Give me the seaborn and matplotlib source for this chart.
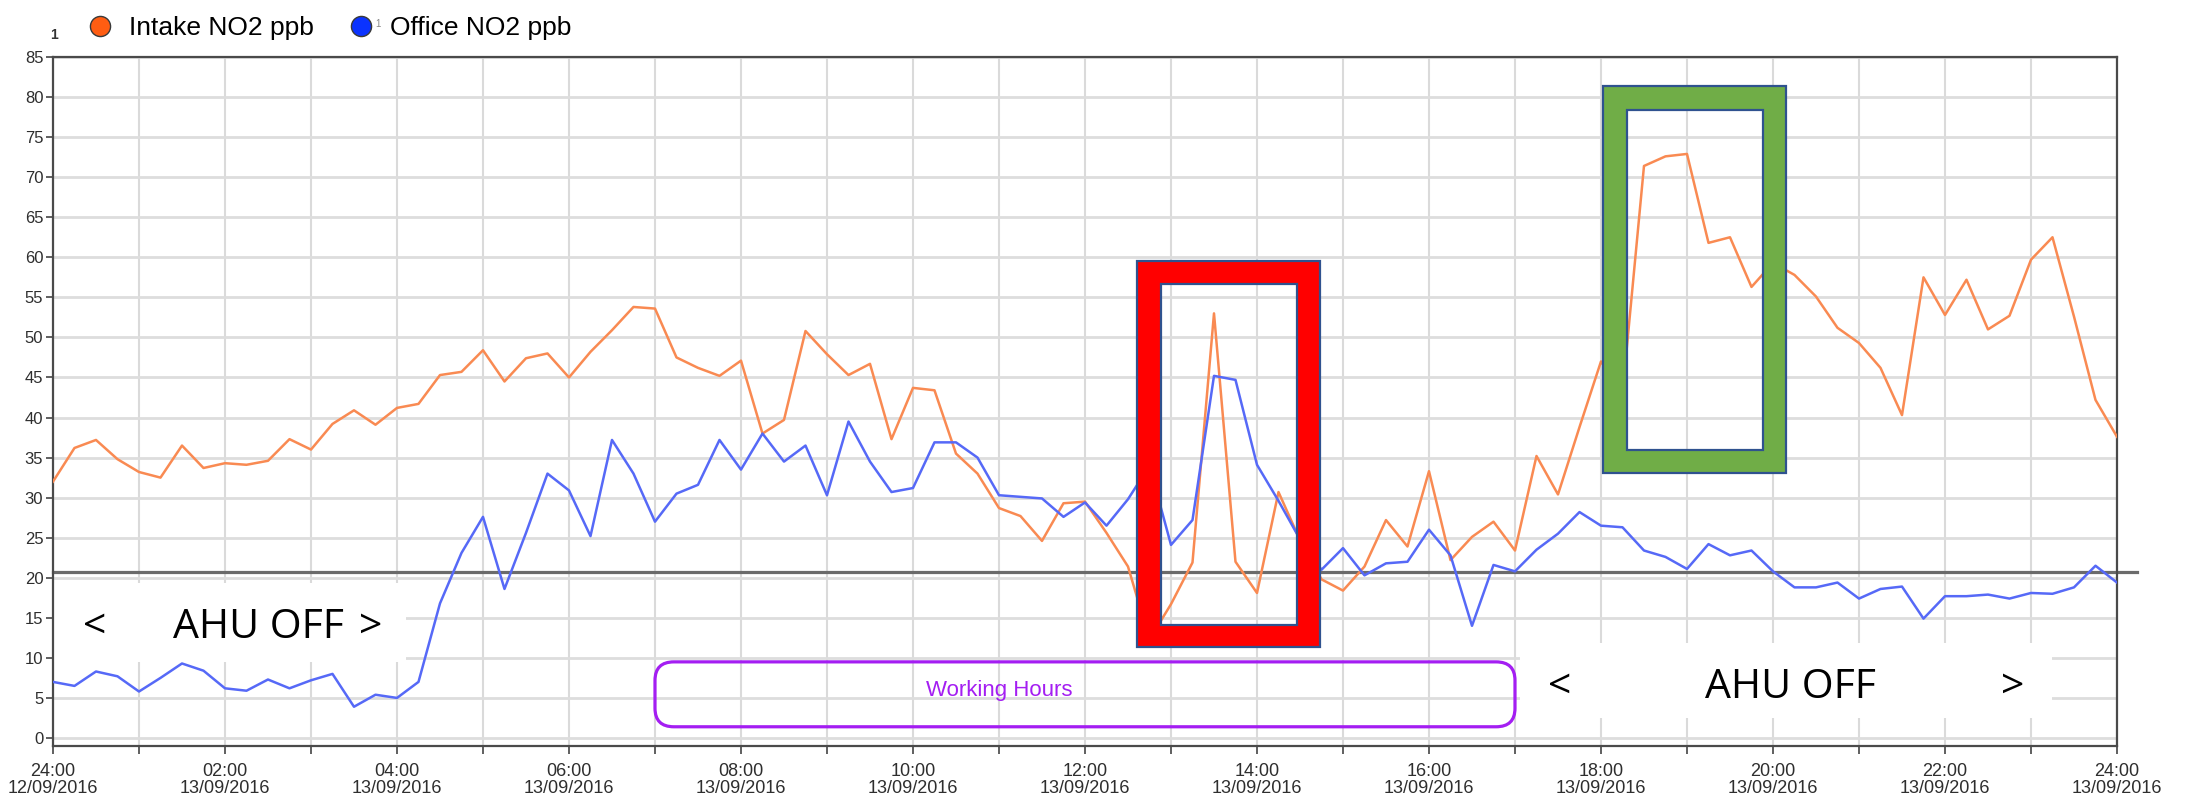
import numpy as np
import pandas as pd
import seaborn as sns
import matplotlib.pyplot as plt
from matplotlib.patches import Rectangle, FancyBboxPatch, PathPatch
from matplotlib.path import Path
from matplotlib.lines import Line2D

plt.rcParams['font.family'] = ['Liberation Sans', 'DejaVu Sans']

# NO2 readings every 15 minutes, 24:00 12/09 -> 24:00 13/09
intake_no2 = [32.0, 36.2, 37.2, 34.8, 33.2, 32.5, 36.5, 33.7, 34.3, 34.1,
              34.6, 37.3, 36.0, 39.2, 40.9, 39.1, 41.2, 41.7, 45.3, 45.7,
              48.4, 44.5, 47.4, 48.0, 45.0, 48.2, 50.9, 53.8, 53.6, 47.5,
              46.2, 45.2, 47.1, 38.0, 39.7, 50.8, 47.9, 45.3, 46.7, 37.3,
              43.7, 43.4, 35.5, 33.0, 28.7, 27.7, 24.6, 29.3, 29.5, 25.6,
              21.4, 12.3, 16.7, 21.9, 53.0, 22.0, 18.1, 30.7, 24.7, 19.8,
              18.4, 21.4, 27.2, 23.9, 33.3, 22.2, 25.1, 27.0, 23.4, 35.2,
              30.4, 38.8, 47.0, 43.0, 71.4, 72.6, 72.9, 61.8, 62.5, 56.3,
              59.3, 57.8, 55.1, 51.2, 49.3, 46.2, 40.3, 57.5, 52.8, 57.2,
              51.0, 52.7, 59.7, 62.5, 52.6, 42.2, 37.6]
office_no2 = [7.0, 6.5, 8.3, 7.7, 5.8, 7.5, 9.3, 8.4, 6.2, 5.9,
              7.3, 6.2, 7.2, 8.0, 3.9, 5.4, 5.0, 7.0, 16.8, 23.1,
              27.6, 18.6, 25.6, 33.0, 30.9, 25.2, 37.2, 33.0, 27.0, 30.5,
              31.6, 37.2, 33.5, 38.0, 34.5, 36.5, 30.3, 39.5, 34.5, 30.7,
              31.2, 36.9, 36.9, 35.0, 30.3, 30.1, 29.9, 27.6, 29.4, 26.5,
              29.8, 34.0, 24.1, 27.2, 45.2, 44.7, 34.1, 29.6, 24.8, 21.0,
              23.7, 20.3, 21.8, 22.0, 26.0, 22.8, 14.0, 21.6, 20.8, 23.5,
              25.5, 28.2, 26.5, 26.3, 23.4, 22.6, 21.1, 24.2, 22.8, 23.4,
              20.8, 18.8, 18.8, 19.4, 17.4, 18.6, 18.9, 14.9, 17.7, 17.7,
              17.9, 17.4, 18.1, 18.0, 18.8, 21.5, 19.4]
series_names = ['Intake NO2 ppb', 'Office NO2 ppb']
line_colors = ['#f98a52', '#5669f7']
marker_colors = ['#ff5d12', '#0b33ff']
tick_hours = [0, 2, 4, 6, 8, 10, 12, 14, 16, 18, 20, 22, 24]
tick_labels = ['24:00\n12/09/2016', '02:00\n13/09/2016', '04:00\n13/09/2016',
               '06:00\n13/09/2016', '08:00\n13/09/2016', '10:00\n13/09/2016',
               '12:00\n13/09/2016', '14:00\n13/09/2016', '16:00\n13/09/2016',
               '18:00\n13/09/2016', '20:00\n13/09/2016', '22:00\n13/09/2016',
               '24:00\n13/09/2016']
ahu_line = 20.76

hours = np.arange(len(intake_no2)) * 0.25
df = pd.DataFrame({
    'hour': np.concatenate([hours, hours]),
    'no2': intake_no2 + office_no2,
    'series': [series_names[0]] * len(hours) + [series_names[1]] * len(hours),
})

fig = plt.figure(figsize=(21.87, 7.97), dpi=100)
ax = fig.add_axes([0.02423, 0.06399, 0.94376, 0.86449])

sns.lineplot(data=df, x='hour', y='no2', hue='series', estimator=None,
             palette=dict(zip(series_names, line_colors)), linewidth=1.8,
             legend=False, ax=ax, zorder=3)

ax.set_xlim(0, 24)
ax.set_ylim(-1.0, 85)
ax.set_xlabel('')
ax.set_ylabel('')
ax.set_xticks(tick_hours)
ax.set_xticklabels(tick_labels, linespacing=1.0)
ax.set_xticks(np.arange(1, 24, 2), minor=True)
ax.set_yticks(range(0, 90, 5))
ax.set_axisbelow(True)
ax.grid(axis='x', which='both', color='#dadada', lw=1.5)
ax.grid(axis='y', color='#dddddd', lw=2.0)
ax.tick_params(axis='y', length=5, width=1.2, color='#444444',
               labelsize=12, labelcolor='#2e2e2e', pad=2)
ax.tick_params(axis='x', which='both', length=6, width=1.2, color='#444444',
               labelsize=13, labelcolor='#2e2e2e', pad=6)
for s in ax.spines.values():
    s.set_color('#4a4a4a')
    s.set_linewidth(1.6)

# dark reference line, runs a little past the right axis
ax.axhline(ahu_line, xmin=0, xmax=1.0096, color='#6b6b6b', lw=2.3,
           clip_on=False, zorder=2.5)

# white label boxes
ax.add_patch(Rectangle((0, 9.5), 4.1, 9.9, facecolor='white', edgecolor='none', zorder=1))
ax.add_patch(Rectangle((17.06, 2.5), 6.19, 9.4, facecolor='white', edgecolor='none', zorder=1))
ahu_font = dict(family=['Open Sans', 'DejaVu Sans'], fontsize=29.5, color='black',
                va='baseline', ha='left', zorder=6)
ax.text(0.35, 12.45, '<', **ahu_font)
ax.text(1.39, 12.45, 'AHU OFF', **ahu_font)
ax.text(3.56, 12.45, '>', **ahu_font)
ax.text(17.38, 5.0, '<', **ahu_font)
ax.text(19.21, 5.0, 'AHU OFF', **ahu_font)
ax.text(22.65, 5.0, '>', **ahu_font)

# working hours rounded box
ax.add_patch(FancyBboxPatch((7.0, 1.4), 10.0, 8.1,
                            boxstyle='round,pad=0,rounding_size=0.22',
                            mutation_aspect=10.5, facecolor='none',
                            edgecolor='#a41ef2', lw=2.3, zorder=4))
ax.text(11.0, 5.3, 'Working Hours', color='#a41ef2', fontsize=16,
        ha='center', va='baseline', zorder=4)


def frame(ax, outer, inner, color):
    x0, x1, y0, y1 = outer
    u0, u1, v0, v1 = inner
    verts = [(x0, y0), (x1, y0), (x1, y1), (x0, y1), (x0, y0),
             (u0, v0), (u0, v1), (u1, v1), (u1, v0), (u0, v0)]
    codes = [Path.MOVETO, Path.LINETO, Path.LINETO, Path.LINETO, Path.CLOSEPOLY] * 2
    ax.add_patch(PathPatch(Path(verts, codes), facecolor=color,
                           edgecolor='#2f528f', lw=1.6, zorder=5))


frame(ax, (12.606, 14.728, 11.30, 59.49), (12.879, 14.464, 14.11, 56.68), '#ff0000')
frame(ax, (18.025, 20.155, 33.08, 81.40), (18.301, 19.887, 35.96, 78.44), '#70ad47')

# legend
handles = [Line2D([], [], ls='none', marker='o', markersize=14.5,
                  markerfacecolor=c, markeredgecolor='#3a3a3a', markeredgewidth=1.0)
           for c in marker_colors]
fig.legend(handles, series_names, loc='center left', bbox_to_anchor=(0.0397, 0.9649),
           ncol=2, frameon=False, fontsize=19, handlelength=1.0, handletextpad=0.6,
           columnspacing=1.3, borderpad=0, borderaxespad=0)
fig.text(54 / 2187, 1 - 35 / 797, '1', fontsize=10, weight='bold', color='#333333',
         ha='center', va='center')
fig.text(378 / 2187, 1 - 24 / 797, '1', fontsize=7, color='#888888',
         ha='center', va='center')

fig.savefig('out.png', dpi=100)
